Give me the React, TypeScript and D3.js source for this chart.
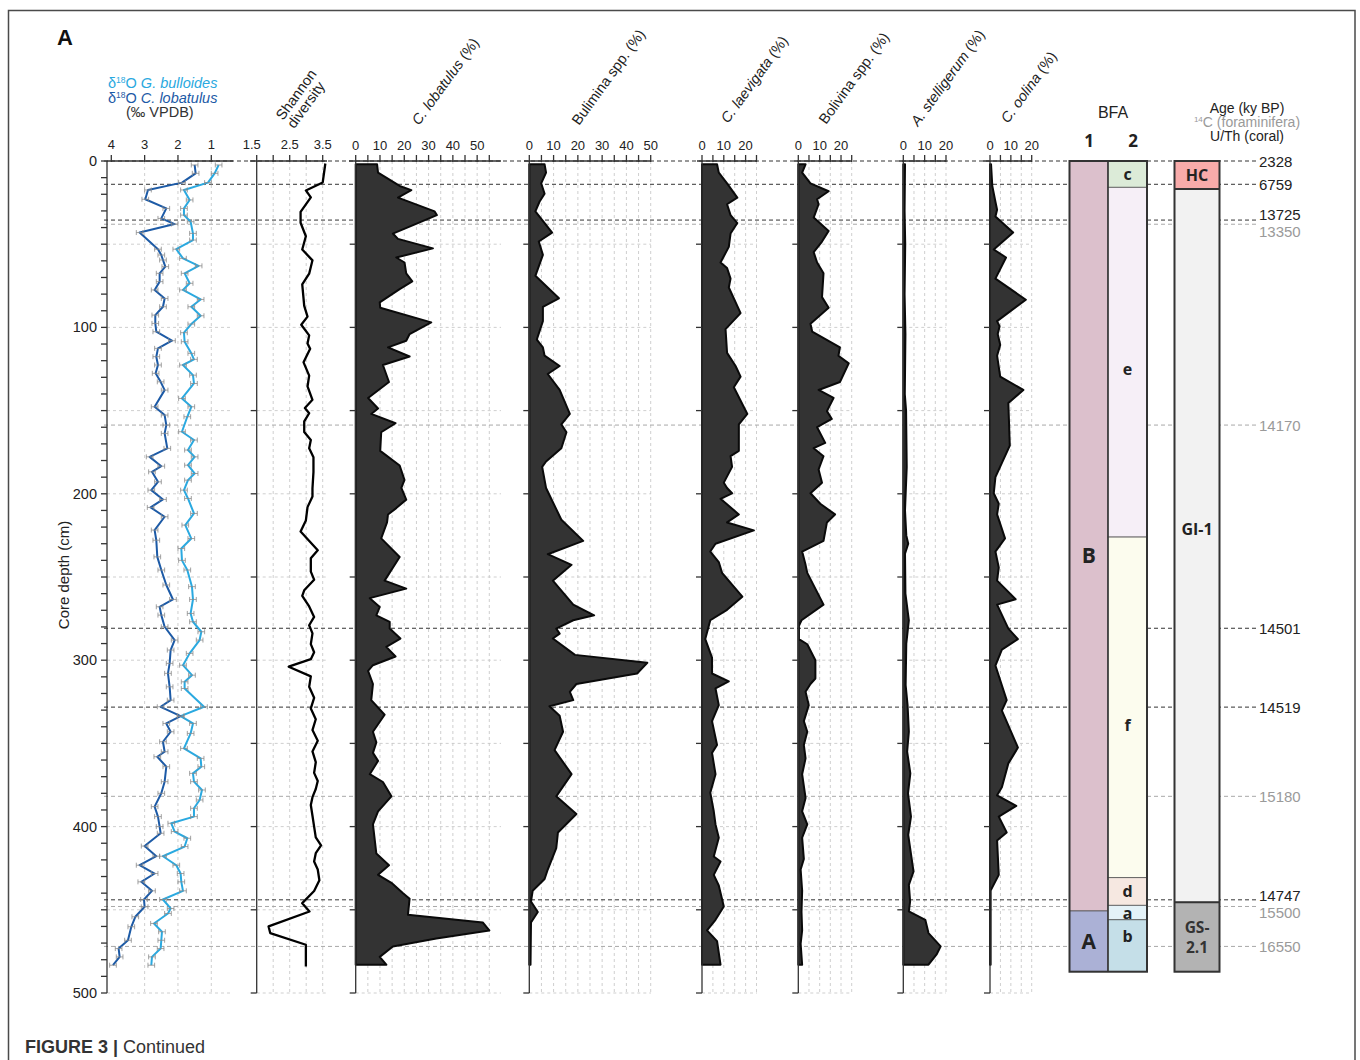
import React from 'react';
import * as d3 from 'd3';

// ---------------- data ----------------
const depthLabels = [0, 100, 200, 300, 400, 500];
const depthMinorTicks = [0, 10, 20, 30, 40, 50, 60, 70, 80, 90, 100, 110, 120, 130, 140, 150, 160, 170, 180, 190, 200, 210, 220, 230, 240, 250, 260, 270, 280, 290, 300, 310, 320, 330, 340, 350, 360, 370, 380, 390, 400, 410, 420, 430, 440, 450, 460, 470, 480, 490, 500];
const gridDepths = [50, 100, 150, 200, 250, 300, 350, 400, 450, 500];

const isoTicks = [4, 3, 2, 1];
const isoGrid = [3, 2, 1];
const shannonTicks = [1.5, 2, 2.5, 3, 3.5];
const shannonLabels = [1.5, 2.5, 3.5];
const lobTicks = [0, 5, 10, 15, 20, 25, 30, 35, 40, 45, 50, 55];
const bulTicks = [0, 5, 10, 15, 20, 25, 30, 35, 40, 45, 50];
const bigLabels = [0, 10, 20, 30, 40, 50];
const ticks25 = [0, 5, 10, 15, 20, 25];
const ticks20 = [0, 5, 10, 15, 20];
const smallLabels = [0, 10, 20];

const isoError = 0.1;

// [depth cm, d18O permil]
const bulloides: [number, number][] = [[2.4,0.78],[7.4,0.9],[13,1.1],[17.4,1.82],[23.4,1.65],[28.5,1.82],[32.5,1.82],[36.5,1.62],[43.5,1.55],[47.5,1.55],[53,2.05],[58.5,1.85],[63,1.38],[67.5,1.8],[73.5,1.65],[77.5,1.85],[83.2,1.32],[87.6,1.6],[93,1.32],[98,1.6],[103.2,1.82],[108.6,1.8],[115.6,1.6],[119.2,1.52],[122.6,1.85],[128.7,1.55],[133.7,1.52],[142.7,1.88],[147.7,1.6],[153.7,1.72],[162.7,1.88],[167.7,1.52],[173.7,1.7],[177.8,1.5],[182.8,1.7],[187.8,1.5],[191.8,1.7],[197.8,1.82],[202.8,1.7],[211.8,1.52],[218.8,1.78],[226.9,1.6],[232.9,1.9],[240,1.88],[245.8,1.72],[255.8,1.58],[263.5,1.55],[271.9,1.62],[276.9,1.55],[282.9,1.3],[287.9,1.35],[295.9,1.65],[303,1.85],[309,1.58],[313,1.8],[317,1.8],[328,1.22],[333.6,1.92],[338,1.55],[344,1.62],[353,1.82],[359,1.32],[364,1.3],[368,1.55],[373,1.52],[378,1.28],[384,1.35],[389,1.52],[394,1.52],[398,2.2],[403,2.1],[407,1.72],[412,1.8],[417.8,2.45],[423.2,2.05],[428.2,1.92],[433.2,1.9],[438.6,1.85],[443.8,2.45],[449.2,2.22],[452.2,2.3],[458.2,2.72],[463.2,2.48],[468.3,2.5],[473.3,2.52],[478.3,2.78],[483.3,2.8]];

const lobatulusIso: [number, number][] = [[2.4,1.5],[7.4,1.47],[13,1.88],[17.4,2.9],[23,2.98],[28.5,2.35],[34.5,2.5],[37.9,2.1],[43,3.15],[53,2.6],[56.5,2.5],[59.5,2.45],[63.5,2.38],[67.5,2.55],[72.5,2.55],[77.5,2.7],[82.6,2.4],[87.6,2.45],[92.6,2.68],[97.6,2.68],[102.6,2.65],[108,2.18],[112.6,2.6],[117.6,2.65],[122.6,2.6],[127.6,2.67],[132.7,2.52],[137.7,2.4],[147.7,2.7],[152.7,2.4],[158.7,2.35],[163.7,2.4],[172.7,2.32],[177.8,2.85],[183.4,2.5],[186.8,2.78],[192.8,2.6],[197.8,2.8],[203.4,2.45],[208.2,2.82],[213.8,2.4],[221.8,2.7],[227.9,2.65],[237.9,2.62],[245.8,2.5],[254.8,2.35],[263.5,2.15],[267.9,2.55],[272.9,2.5],[279.9,2.4],[287.9,2.1],[293.9,2.22],[301.9,2.25],[307.9,2.3],[316,2.25],[324,2.22],[328,2.52],[333.6,1.92],[338,2.35],[343,2.22],[349,2.45],[355,2.4],[358,2.62],[364,2.35],[373,2.4],[380,2.5],[388,2.7],[394,2.6],[400,2.55],[404,2.52],[411.7,3.0],[417.8,2.65],[423.2,3.15],[428.2,2.7],[433.2,3.1],[438.6,2.78],[443.8,3.02],[448.2,3.0],[454.2,3.28],[460.2,3.4],[468.3,3.5],[473.3,3.78],[478.3,3.75],[483.3,3.95]];

const shannon: [number, number][] = [[1.5,3.58],[12.9,3.5],[17.7,2.99],[21.9,3.14],[30.6,2.83],[37.1,2.83],[45.2,2.99],[53.2,2.88],[59.7,3.19],[67.7,3.09],[74.2,2.88],[87.1,2.94],[93.5,3.04],[98.4,2.85],[104.8,3.09],[109.7,3.04],[112.9,3.12],[121,2.92],[129,3.09],[135.5,3.04],[143.5,3.19],[148.4,2.96],[151.6,3.09],[156.5,2.94],[162.9,2.94],[167.7,3.14],[172.6,3.09],[178,3.22],[187,3.22],[196.8,3.19],[201.6,3.19],[208,3.04],[216,2.99],[222.6,2.83],[233.9,3.35],[238.7,3.14],[246.8,3.14],[251.6,3.24],[258,2.94],[261.3,2.88],[267.7,3.09],[274,3.24],[279,3.09],[283.9,3.19],[290.3,3.14],[295.2,3.24],[299.4,3.14],[303.9,2.47],[309.7,3.14],[316,3.09],[322.6,3.24],[329,3.14],[335.5,3.29],[342,3.19],[348.4,3.35],[354.8,3.19],[361.3,3.29],[367.7,3.24],[372.6,3.35],[377.4,3.29],[382.3,3.19],[387,3.14],[393.5,3.19],[400,3.24],[406.5,3.29],[411.3,3.45],[416,3.29],[421,3.24],[425.8,3.35],[432.3,3.4],[438.7,3.24],[446,2.88],[451,3.1],[460,1.86],[464,1.91],[471,2.99],[484,2.99]];

// [depth cm, %]
const cLobatulus: [number, number][] = [[2,8.8],[7,9.2],[15,18.1],[17.5,22.9],[22,17.4],[30.3,32.5],[32.5,33.4],[37.3,25.6],[43.6,15.3],[46.8,17.4],[52.5,31.8],[58,16.7],[61,20.1],[67.5,20.8],[72.3,23.3],[77,18.1],[85,9.9],[88.2,10.1],[97,31.1],[104,22.2],[108,20.8],[112,13.3],[117.5,22.2],[122.6,11.2],[132.8,13.7],[142.4,5.1],[148.7,9.2],[152,6.4],[157.6,16.4],[163,10.5],[174.2,10.1],[183,18.1],[191.7,20.1],[196.5,18.8],[203.5,20.8],[208.6,16.7],[212.4,13.3],[217.2,12.9],[226.8,10.5],[238,18.1],[252.2,11.9],[257,20.8],[262.7,5.8],[268,9.9],[273,8.5],[277,14],[281,14],[287,18.4],[292,12.6],[297.8,16.4],[303,7.1],[306.4,5.1],[314.3,7.1],[324,6.4],[332.8,11.9],[343,7.1],[349.4,8.5],[355.7,7.1],[360.5,9.2],[368.5,5.8],[373.2,11.2],[381.8,14.7],[390.8,9.2],[398.7,7.1],[416.2,8.5],[423.2,13.7],[429,9.2],[433.8,14.7],[440,19.5],[443.3,22.2],[453,21.5],[457.6,52.3],[462.4,55],[467.2,33.2],[472,15.3],[478.3,9.9],[483,12.6]];

const bulimina: [number, number][] = [[2,6.3],[7,6.9],[13.4,4.9],[19.7,6.3],[24.5,4.2],[30.3,2.5],[43,9.4],[48.4,3.9],[56.4,5.6],[69,2.5],[82.5,12.2],[87.6,5.6],[96.2,5.6],[107.3,3.1],[112,5.6],[117,6.3],[123.2,12.5],[128,7.6],[137.6,12.5],[152,16.7],[158.3,13.2],[163,15.3],[172.6,13.2],[180.6,6.9],[183.8,5.3],[196.5,6.9],[215.6,13.2],[228.3,22.2],[236.3,7.6],[242.7,17.4],[252.2,9.7],[266.6,18.1],[273,26.7],[276,18.1],[281,11.1],[284,12.5],[287,9.7],[296.8,18.8],[301.6,48.6],[308,44.4],[314.3,19.4],[319,16.7],[324,18.1],[327.7,8.3],[333.4,12.5],[343,13.9],[354,10.4],[368.5,17.4],[381.8,11.1],[392.4,19.4],[403.5,11.8],[413,11.1],[425.8,7.6],[431.5,6.3],[438.5,1.4],[445,0.7],[451.3,3.5],[457.6,0.7],[483,0.5]];

const cLaevigata: [number, number][] = [[2,6.9],[7,7.7],[13.4,11.5],[22,16.2],[26,11.5],[32.5,13.1],[37.3,16.2],[43.6,13.1],[51.6,12.3],[61,8.5],[64.3,11.5],[70.7,13.1],[76,12.3],[91.4,17.7],[101,10.8],[115.3,11.5],[123.2,15.4],[129.6,17.7],[136,14.6],[152,20.8],[158.3,16.9],[174.2,16.9],[177.4,13.1],[183.8,13.8],[193.3,10],[196.5,11.5],[199.7,13.8],[203,8.5],[212.4,16.9],[217.2,11.5],[222,23.8],[230,6.2],[234.7,3.8],[241,7.7],[247.5,9.2],[261.8,18.5],[269.7,11.5],[276,3.8],[287.3,1.5],[298.4,4.6],[308,4.6],[312.7,12.3],[317,6.2],[327,7.7],[336.6,4.6],[351,6.9],[355.7,4.6],[368.5,6.2],[379.6,3.8],[390.8,5.4],[398.7,6.2],[406.7,7.7],[418,5.4],[421,8.5],[429,5.4],[435.4,7.7],[448,10],[456,6.2],[462.4,2.3],[468.8,6.9],[483,8.5]];

const bolivina: [number, number][] = [[2,3.4],[7,1.8],[13.4,5.7],[18.2,14.2],[23,8.8],[26,9.5],[34,7.2],[42,14.2],[48.4,11.1],[54.8,7.2],[61,8.8],[67.5,11.8],[81.8,11.1],[88.2,14.2],[97.8,5.7],[102.5,6.5],[112,19.5],[117,18.8],[121.6,23.6],[132.8,19.5],[137.6,9.5],[142.4,16.5],[150.3,13.4],[155,15.7],[160,8.8],[169.4,12.6],[172.6,7.2],[177.4,11.8],[185.4,9.5],[193.3,11.1],[199.7,5.7],[206,10.3],[212.4,17.2],[217.2,13.4],[228.3,11.8],[234.7,1.8],[242.7,3.4],[247.5,4.2],[266.6,11.8],[276,1.5],[279.3,0.3],[287.3,0.3],[290.4,4.2],[300,8],[311,8],[314.3,5.7],[319,3.4],[327,4.9],[336.6,2.6],[343,4.2],[351,2.6],[359,3.4],[368.5,1.8],[382.8,3.4],[390.8,1.8],[398.7,4.2],[406.7,1.8],[419.4,2.6],[425.8,1.1],[438.5,1.8],[451.3,1.5],[462.4,1.8],[470.4,1.1],[483,1.8]];

const aStelligerum: [number, number][] = [[2,0.8],[30,0.6],[50,0.9],[80,0.6],[104,1.0],[140,0.7],[150,1.3],[184,1.6],[210,0.8],[225,1.4],[230,2.3],[236,0.8],[260,1.0],[276,2.6],[290,1.4],[315,1.1],[327,2.0],[343,2.6],[355,1.8],[368,3.3],[380,2.2],[394,3.6],[405,2.3],[427,4.8],[435,2.6],[445,3.2],[451,2.6],[456,10.3],[464,11.8],[472,17.5],[476.6,15.7],[483,11.8]];

const cOolina: [number, number][] = [[2,0.5],[15,1.1],[24.5,2.6],[29.3,3.4],[33.4,2.6],[43,11.1],[53.2,1.8],[58,7.7],[70.7,2.6],[83.4,17.2],[96.2,3.4],[99.4,4.6],[104,3.7],[110.5,4.9],[117,3.4],[129.6,4.9],[137.6,16],[145.5,8.8],[171,9.5],[190,2.6],[199.7,1.8],[206,4.2],[212.4,3.4],[226.8,7.2],[234.7,2.6],[244.3,4.2],[252.2,3.4],[263.4,12.3],[266.6,3.4],[281,8.8],[287.3,13.4],[293.6,5.7],[303.2,2.6],[324,8],[330.3,5.7],[352.5,13.4],[362,8.8],[376.4,5.7],[381.2,3.4],[387.6,12.6],[394,4.2],[403.5,8],[408.3,3.4],[429,4.2],[438.5,0.3],[483,0.3]];

// Zones [name, top depth, bottom depth]
const bfa1Zones: [string, number, number][] = [['B', 0, 450.7], ['A', 450.7, 487.2]];
const bfa2Zones: [string, number, number][] = [['c', 0, 15.8], ['e', 15.8, 226], ['f', 226, 430.7], ['d', 430.7, 447.3], ['a', 447.3, 456], ['b', 456, 487.2]];
const climateZones: [string, number, number][] = [['HC', 0, 16.8], ['GI-1', 16.8, 445.5], ['GS-2.1', 445.5, 487.2]];

// Age tie points [depth cm, age label, method]
const ageTies: [number, string, string][] = [
  [0, '2328', 'U/Th'], [14, '6759', 'U/Th'], [35.5, '13725', 'U/Th'], [38, '13350', '14C'],
  [158.7, '14170', '14C'], [280.8, '14501', 'U/Th'], [328.2, '14519', 'U/Th'], [381.8, '15180', '14C'],
  [444, '14747', 'U/Th'], [448, '15500', '14C'], [472, '16550', '14C'],
];

// ---------------- styles / layout ----------------
const FONT = '"Liberation Sans", Arial, Helvetica, sans-serif';
const BOLD = '"Open Sans", "Liberation Sans", sans-serif';
const LIGHT_BLUE = '#2aa9e0';
const DARK_BLUE = '#1c5aa6';
const zoneColors: Record<string, string> = {
  B: '#dcc0cc', A: '#abb1d6', c: '#dcebd8', e: '#f6eff7', f: '#fcfcee', d: '#f6e8e1', a: '#e4f2f8', b: '#c5dfe8',
  HC: '#f8abaa', 'GI-1': '#f2f2f2', 'GS-2.1': '#b3b3b3',
};
const labelNudge: Record<string, number> = { '13725': -5.5, '13350': 7, '14747': -4, '15500': 6 };
const zoneLabelNudge: Record<string, number> = { e: 7, f: 18, B: 19, b: -10, 'GI-1': -17 };

const y = d3.scaleLinear().domain([0, 500]).range([161, 993]);

interface Panel {
  name: string; italic: string; rest: string; data: [number, number][];
  domain: [number, number]; range: [number, number]; ticks: number[]; labels: number[];
  lineStart: number; lineEnd: number; head: [number, number];
}

const panels: Panel[] = [
  { name: 'lob', italic: 'C. lobatulus', rest: ' (%)', data: cLobatulus, domain: [0, 55], range: [355.7, 489.3], ticks: lobTicks, labels: bigLabels, lineStart: 349, lineEnd: 501, head: [419, 126] },
  { name: 'bul', italic: '', rest: 'Bulimina spp. (%)', data: bulimina, domain: [0, 50], range: [529.3, 650.7], ticks: bulTicks, labels: bigLabels, lineStart: 524, lineEnd: 651, head: [579, 126] },
  { name: 'lae', italic: 'C. laevigata', rest: ' (%)', data: cLaevigata, domain: [0, 25], range: [702, 756.5], ticks: ticks25, labels: smallLabels, lineStart: 697, lineEnd: 757, head: [728, 124] },
  { name: 'bol', italic: '', rest: 'Bolivina spp. (%)', data: bolivina, domain: [0, 25], range: [798.3, 851.7], ticks: ticks25, labels: smallLabels, lineStart: 794, lineEnd: 852, head: [826, 125] },
  { name: 'ste', italic: 'A. stelligerum', rest: ' (%)', data: aStelligerum, domain: [0, 20], range: [903.3, 946], ticks: ticks20, labels: smallLabels, lineStart: 899, lineEnd: 946, head: [918, 127] },
  { name: 'ool', italic: 'C. oolina', rest: ' (%)', data: cOolina, domain: [0, 20], range: [990, 1031.7], ticks: ticks20, labels: smallLabels, lineStart: 983, lineEnd: 1032, head: [1008, 124] },
];

const xIso = d3.scaleLinear().domain([4, 1]).range([111.3, 211.3]);
const xSh = d3.scaleLinear().domain([1.5, 3.5]).range([256.7, 322.7]);

const GRID = '#c9c9c9';
const AXIS = '#333';

function ZoneColumn({ zones, x, w, big }: { zones: [string, number, number][]; x: number; w: number; big: number }) {
  return (
    <g>
      {zones.map(([n, t, b]) => (
        <rect key={n} x={x} y={y(t)} width={w} height={y(b) - y(t)} fill={zoneColors[n]} stroke="#555" strokeWidth={0.8} />
      ))}
      {zones.map(([n, t, b]) => {
        const cy = (y(t) + y(b)) / 2 + (zoneLabelNudge[n] || 0);
        if (n === 'GS-2.1') {
          return (
            <g key={n + 't'}>
              <text x={x + w / 2} y={cy - 4} textAnchor="middle" fontFamily={BOLD} fontWeight={700} fontSize={15.5} fill="#333">GS-</text>
              <text x={x + w / 2} y={cy + 16} textAnchor="middle" fontFamily={BOLD} fontWeight={700} fontSize={15.5} fill="#333">2.1</text>
            </g>
          );
        }
        return (
          <text key={n + 't'} x={x + w / 2} y={cy} textAnchor="middle" dominantBaseline="central" fontFamily={BOLD} fontWeight={700} fontSize={big} fill="#222">{n}</text>
        );
      })}
    </g>
  );
}

export default function App() {
  const y0 = y(0);
  const y500 = y(500);
  const isoLine = d3.line<[number, number]>().x((d) => xIso(d[1])).y((d) => y(d[0]));
  const shLine = d3.line<[number, number]>().x((d) => xSh(d[1])).y((d) => y(d[0]));

  return (
    <svg width={1360} height={1060} style={{ position: 'absolute', left: 0, top: 0, background: '#fff' }} fontFamily={FONT}>
      <rect x={0} y={0} width={1360} height={1060} fill="#fff" />
      <rect x={8.5} y={10.5} width={1346.5} height={1100} fill="none" stroke="#4a4a4a" strokeWidth={1.5} />

      {/* Gridlines */}
      <g stroke={GRID} strokeWidth={0.9} strokeDasharray="3,3">
        {gridDepths.map((g) => <line key={'ig' + g} x1={107} x2={232} y1={y(g)} y2={y(g)} />)}
        {isoGrid.map((v) => <line key={'iv' + v} x1={xIso(v)} x2={xIso(v)} y1={y0} y2={y500} />)}
        {gridDepths.map((g) => <line key={'sg' + g} x1={xSh(1.5)} x2={327} y1={y(g)} y2={y(g)} />)}
        {shannonTicks.slice(1).map((v) => <line key={'sv' + v} x1={xSh(v)} x2={xSh(v)} y1={y0} y2={y500} />)}
        {panels.map((p) => {
          const xs = d3.scaleLinear().domain(p.domain).range(p.range);
          return (
            <g key={'g' + p.name}>
              {gridDepths.map((g) => <line key={g} x1={p.range[0]} x2={p.lineEnd} y1={y(g)} y2={y(g)} />)}
              {p.ticks.slice(1).map((v) => <line key={'v' + v} x1={xs(v)} x2={xs(v)} y1={y0} y2={y500} />)}
            </g>
          );
        })}
      </g>

      {/* Age tie lines */}
      {ageTies.map(([d, lab, m]) => (
        <line key={'al' + lab} x1={104} x2={1256} y1={y(d)} y2={y(d)} stroke={m === 'U/Th' ? '#333' : '#a8a8a8'} strokeWidth={1} strokeDasharray="4,3" />
      ))}

      {/* Isotope curves */}
      <path d={isoLine(bulloides) || ''} fill="none" stroke={LIGHT_BLUE} strokeWidth={2} strokeLinejoin="round" />
      <path d={isoLine(lobatulusIso) || ''} fill="none" stroke={DARK_BLUE} strokeWidth={2} strokeLinejoin="round" />
      <g stroke="#8a8a8a" strokeWidth={0.8}>
        {[...bulloides, ...lobatulusIso].map(([d, v], i) => {
          const yy = y(d);
          const xa = xIso(v + isoError);
          const xb = xIso(v - isoError);
          return (
            <g key={'e' + i}>
              <line x1={xa} x2={xb} y1={yy} y2={yy} />
              <line x1={xa} x2={xa} y1={yy - 2.5} y2={yy + 2.5} />
              <line x1={xb} x2={xb} y1={yy - 2.5} y2={yy + 2.5} />
            </g>
          );
        })}
      </g>

      {/* Isotope axes */}
      <g stroke={AXIS} strokeWidth={1.3}>
        <line x1={107} x2={107} y1={y0} y2={y500} />
        <line x1={107} x2={233} y1={y0} y2={y0} />
        {depthMinorTicks.map((t) => <line key={'dt' + t} x1={101} x2={107} y1={y(t)} y2={y(t)} />)}
        {isoTicks.map((t) => <line key={'it' + t} x1={xIso(t)} x2={xIso(t)} y1={y0 - 6} y2={y0 + 1} />)}
      </g>
      {depthLabels.map((t) => (
        <text key={'dl' + t} x={97} y={y(t)} textAnchor="end" dominantBaseline="central" fontSize={14.5} fill="#222">{t}</text>
      ))}
      {isoTicks.map((t) => (
        <text key={'il' + t} x={xIso(t)} y={149} textAnchor="middle" fontSize={13} fill="#222">{t}</text>
      ))}
      <text transform="translate(69,575) rotate(-90)" textAnchor="middle" fontSize={15} fill="#222">Core depth (cm)</text>

      {/* Shannon */}
      <path d={shLine(shannon) || ''} fill="none" stroke="#000" strokeWidth={2.3} strokeLinejoin="round" />
      <g stroke={AXIS} strokeWidth={1.3}>
        <line x1={xSh(1.5)} x2={xSh(1.5)} y1={y0} y2={y500} />
        <line x1={250} x2={327} y1={y0} y2={y0} />
        {gridDepths.map((g) => <line key={'st' + g} x1={xSh(1.5) - 6} x2={xSh(1.5)} y1={y(g)} y2={y(g)} />)}
        {shannonTicks.map((t) => <line key={'stt' + t} x1={xSh(t)} x2={xSh(t)} y1={y0 - 6} y2={y0 + 1} />)}
      </g>
      {shannonLabels.map((t) => (
        <text key={'sl' + t} x={xSh(t) - (t === 1.5 ? 5 : 0)} y={149} textAnchor="middle" fontSize={13} fill="#222">{t}</text>
      ))}
      <text transform="translate(283,121) rotate(-54)" fontSize={14.5} fill="#222">
        <tspan x={0} dy={0}>Shannon</tspan>
        <tspan x={0} dy={14}>diversity</tspan>
      </text>

      {/* Species panels */}
      {panels.map((p) => {
        const xs = d3.scaleLinear().domain(p.domain).range(p.range);
        const area = d3.area<[number, number]>().y((d) => y(d[0])).x0(xs(0)).x1((d) => xs(d[1]));
        return (
          <g key={p.name}>
            <path d={area(p.data) || ''} fill="#333" stroke="#0a0a0a" strokeWidth={2} strokeLinejoin="round" />
            <g stroke={AXIS} strokeWidth={1.3}>
              <line x1={xs(0)} x2={xs(0)} y1={y0} y2={y500} />
              <line x1={p.lineStart} x2={p.lineEnd} y1={y0} y2={y0} />
              {gridDepths.map((g) => <line key={'pt' + g} x1={xs(0) - 6} x2={xs(0)} y1={y(g)} y2={y(g)} />)}
              {p.ticks.map((t) => <line key={'ptt' + t} x1={xs(t)} x2={xs(t)} y1={y0 - 6} y2={y0 + 1} />)}
            </g>
            {p.labels.map((t) => (
              <text key={'pl' + t} x={xs(t)} y={150} textAnchor="middle" fontSize={13} fill="#222">{t}</text>
            ))}
            <text transform={`translate(${p.head[0]},${p.head[1]}) rotate(-54)`} fontSize={14.5} fill="#222">
              {p.italic ? <tspan fontStyle="italic">{p.italic}</tspan> : null}
              <tspan>{p.rest}</tspan>
            </text>
          </g>
        );
      })}

      {/* BFA columns */}
      <ZoneColumn zones={bfa1Zones} x={1069.5} w={38.5} big={21} />
      <ZoneColumn zones={bfa2Zones} x={1108} w={39} big={16} />
      <rect x={1069.5} y={y(0)} width={77.5} height={y(487.2) - y(0)} fill="none" stroke="#333" strokeWidth={2} />
      <line x1={1108} x2={1108} y1={y(0)} y2={y(487.2)} stroke="#333" strokeWidth={1.5} />
      <text x={1113} y={118} textAnchor="middle" fontSize={16} fill="#222">BFA</text>
      <text x={1089} y={147} textAnchor="middle" fontFamily={BOLD} fontWeight={700} fontSize={17} fill="#222">1</text>
      <text x={1133} y={147} textAnchor="middle" fontFamily={BOLD} fontWeight={700} fontSize={17} fill="#222">2</text>

      {/* Climate column */}
      <ZoneColumn zones={climateZones} x={1174.5} w={45} big={16} />
      {climateZones.slice(1).map(([n, t]) => (
        <line key={'cb' + n} x1={1174.5} x2={1219.5} y1={y(t)} y2={y(t)} stroke="#333" strokeWidth={2} />
      ))}
      <rect x={1174.5} y={y(0)} width={45} height={y(487.2) - y(0)} fill="none" stroke="#333" strokeWidth={2} />

      {/* Age header and labels */}
      <text x={1247} y={113} textAnchor="middle" fontSize={14} fill="#222">Age (ky BP)</text>
      <text x={1247} y={127} textAnchor="middle" fontSize={14} fill="#9a9a9a">
        <tspan fontSize={8} dy={-5}>14</tspan>
        <tspan dy={5}>C (foraminifera)</tspan>
      </text>
      <text x={1247} y={141} textAnchor="middle" fontSize={14} fill="#222">U/Th (coral)</text>
      {ageTies.map(([d, lab, m]) => (
        <text key={'at' + lab} x={1259} y={y(d) + (labelNudge[lab] || 0)} dominantBaseline="central" fontSize={15} fill={m === 'U/Th' ? '#222' : '#9a9a9a'}>{lab}</text>
      ))}

      {/* Legend */}
      <text x={108} y={88} fontSize={14.5} fill={LIGHT_BLUE}>
        δ<tspan fontSize={8.5} dy={-5}>18</tspan><tspan dy={5}>O </tspan><tspan fontStyle="italic">G. bulloides</tspan>
      </text>
      <text x={108} y={102.5} fontSize={14.5} fill={DARK_BLUE}>
        δ<tspan fontSize={8.5} dy={-5}>18</tspan><tspan dy={5}>O </tspan><tspan fontStyle="italic">C. lobatulus</tspan>
      </text>
      <text x={126} y={117} fontSize={14.5} fill="#333">(‰ VPDB)</text>

      <text x={57} y={45} fontSize={22} fontWeight={700} fill="#111">A</text>

      <text x={25} y={1053} fontSize={18} fill="#333">
        <tspan fontWeight={700}>FIGURE 3 | </tspan>
        <tspan>Continued</tspan>
      </text>
    </svg>
  );
}
